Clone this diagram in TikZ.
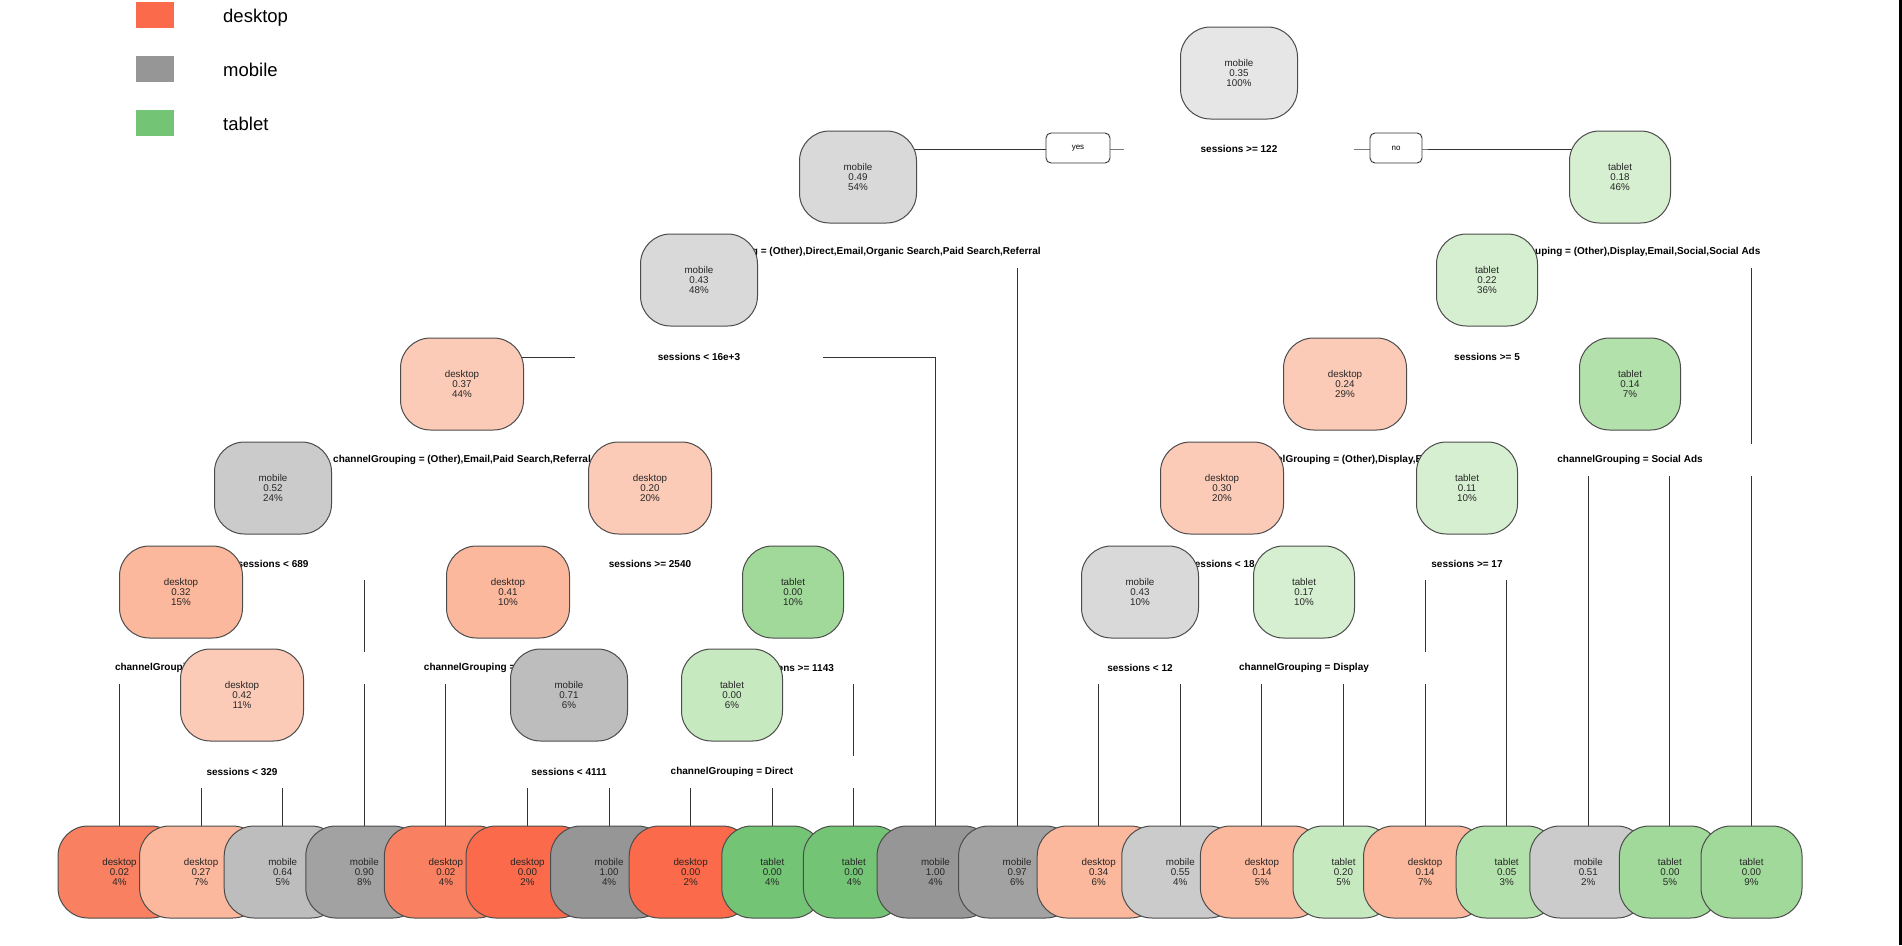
\documentclass[tikz,border=0pt]{standalone}
\usepackage{fontspec}
\setmainfont{Liberation Sans}
\usetikzlibrary{backgrounds}

\definecolor{dkA}{HTML}{FCCBB8}
\definecolor{dkB}{HTML}{FCB89D}
\definecolor{dkC}{HTML}{F98060}
\definecolor{dkD}{HTML}{FB6A4A}
\definecolor{mbA}{HTML}{E6E6E6}
\definecolor{mbB}{HTML}{D9D9D9}
\definecolor{mbC}{HTML}{CBCBCB}
\definecolor{mbD}{HTML}{BDBDBD}
\definecolor{mbE}{HTML}{A2A2A2}
\definecolor{mbF}{HTML}{969696}
\definecolor{tbA}{HTML}{D6EFD1}
\definecolor{tbB}{HTML}{C7E9C0}
\definecolor{tbC}{HTML}{B3E1AB}
\definecolor{tbD}{HTML}{A1D99B}
\definecolor{tbE}{HTML}{74C476}

\pgfdeclarelayer{masks}
\pgfsetlayers{background,masks,main}

\newcommand\nodefont{\fontsize{9.8}{10.4}\selectfont}
\newcommand\splitfont{\fontsize{10}{12}\selectfont\bfseries}
% label text, with a white box three times as wide under it
\newcommand\splitlabel[3]{%
  \node[split] (#1) at (#2) {\phantom{#3}#3\phantom{#3}};
  \begin{pgfonlayer}{masks}
    \fill[white] (#1.south west) rectangle (#1.north east);
  \end{pgfonlayer}}

\tikzset{
  treebox/.style={draw=black!70, line width=1pt, rounded corners=30pt,
    minimum height=92pt, inner sep=0pt, align=center, font=\nodefont, text=black!85},
  desktop/.style={treebox, minimum width=123pt},
  mobile/.style={treebox, minimum width=117pt},
  tablet/.style={treebox, minimum width=101pt},
  split/.style={font=\splitfont, minimum height=32pt, inner sep=0pt},
  yesno/.style={draw=black!80, fill=white, line width=0.9pt, rounded corners=5pt,
    minimum height=30pt, inner sep=0pt, font=\fontsize{8}{9}\selectfont},
  branch/.style={line width=1pt, black!80},
  legtext/.style={anchor=base west, inner sep=0pt, font=\fontsize{18.5}{20}\selectfont}
}

\begin{document}
\begin{tikzpicture}[x=1pt,y=-1pt]
\useasboundingbox (0,0) rectangle (1902,945);

% legend
\fill[dkD] (136,2) rectangle (174,28);
\fill[mbF] (136,56) rectangle (174,82);
\fill[tbE] (136,110) rectangle (174,136);
\node[legtext] (legdesk) at (223,22) {desktop};
\node[legtext] (legmob) at (223,76) {mobile};
\node[legtext] (legtab) at (223,130) {tablet};

% split labels
\splitlabel{s0}{1239,149}{sessions >= 122}
\splitlabel{s1}{858,252}{channelGrouping = (Other),Direct,Email,Organic Search,Paid Search,Referral}
\splitlabel{s2}{1620,252}{channelGrouping = (Other),Display,Email,Social,Social Ads}
\splitlabel{s3}{699,357}{sessions < 16e+3}
\splitlabel{s4}{1487,357}{sessions >= 5}
\splitlabel{s5}{462,460}{channelGrouping = (Other),Email,Paid Search,Referral}
\splitlabel{s6}{1345,460}{channelGrouping = (Other),Display,Email}
\splitlabel{s7}{1630,460}{channelGrouping = Social Ads}
\splitlabel{s8}{273,564}{sessions < 689}
\splitlabel{s9}{650,564}{sessions >= 2540}
\splitlabel{s10}{1222,564}{sessions < 18}
\splitlabel{s11}{1467,564}{sessions >= 17}
\splitlabel{s12}{181,668}{channelGrouping = Referral}
\splitlabel{s13}{508,668}{channelGrouping = Organic Search}
\splitlabel{s14}{793,668}{sessions >= 1143}
\splitlabel{s15}{1140,668}{sessions < 12}
\splitlabel{s16}{1304,668}{channelGrouping = Display}
\splitlabel{s17}{242,772}{sessions < 329}
\splitlabel{s18}{569,772}{sessions < 4111}
\splitlabel{s19}{732,772}{channelGrouping = Direct}

\node[yesno, minimum width=64pt] (yes) at (1078,148) {yes};
\node[yesno, minimum width=52pt] (no) at (1396,148) {no};

% inner nodes
\node[mobile, fill=mbA] (n0) at (1239,73) {mobile\\0.35\\100\%};
\node[mobile, fill=mbB] (n1) at (858,177) {mobile\\0.49\\54\%};
\node[tablet, fill=tbA] (n2) at (1620,177) {tablet\\0.18\\46\%};
\node[mobile, fill=mbB] (n3) at (699,280) {mobile\\0.43\\48\%};
\node[tablet, fill=tbA] (n4) at (1487,280) {tablet\\0.22\\36\%};
\node[desktop, fill=dkA] (n5) at (462,384) {desktop\\0.37\\44\%};
\node[desktop, fill=dkA] (n6) at (1345,384) {desktop\\0.24\\29\%};
\node[tablet, fill=tbC] (n7) at (1630,384) {tablet\\0.14\\7\%};
\node[mobile, fill=mbC] (n8) at (273,488) {mobile\\0.52\\24\%};
\node[desktop, fill=dkA] (n9) at (650,488) {desktop\\0.20\\20\%};
\node[desktop, fill=dkA] (n10) at (1222,488) {desktop\\0.30\\20\%};
\node[tablet, fill=tbA] (n11) at (1467,488) {tablet\\0.11\\10\%};
\node[desktop, fill=dkB] (n12) at (181,592) {desktop\\0.32\\15\%};
\node[desktop, fill=dkB] (n13) at (508,592) {desktop\\0.41\\10\%};
\node[tablet, fill=tbD] (n14) at (793,592) {tablet\\0.00\\10\%};
\node[mobile, fill=mbB] (n15) at (1140,592) {mobile\\0.43\\10\%};
\node[tablet, fill=tbA] (n16) at (1304,592) {tablet\\0.17\\10\%};
\node[desktop, fill=dkA] (n17) at (242,695) {desktop\\0.42\\11\%};
\node[mobile, fill=mbD] (n18) at (569,695) {mobile\\0.71\\6\%};
\node[tablet, fill=tbB] (n19) at (732,695) {tablet\\0.00\\6\%};

% leaves
\foreach \cls/\col/\p/\pc [count=\i from 0] in {desktop/dkC/0.02/4, desktop/dkB/0.27/7,
    mobile/mbD/0.64/5, mobile/mbE/0.90/8, desktop/dkC/0.02/4, desktop/dkD/0.00/2,
    mobile/mbF/1.00/4, desktop/dkD/0.00/2, tablet/tbE/0.00/4, tablet/tbE/0.00/4,
    mobile/mbF/1.00/4, mobile/mbE/0.97/6, desktop/dkB/0.34/6, mobile/mbC/0.55/4,
    desktop/dkB/0.14/5, tablet/tbB/0.20/5, desktop/dkB/0.14/7, tablet/tbC/0.05/3,
    mobile/mbC/0.51/2, tablet/tbD/0.00/5, tablet/tbD/0.00/9}
  \node[\cls, fill=\col] (l\i) at ({119.5+81.6*\i},872) {\cls\\\p\\\pc\%};

% branches
\begin{pgfonlayer}{background}
\foreach \s/\a/\b in {s0/n1/n2, s1/n3/l11, s2/n4/l20, s3/n5/l10, s4/n6/n7,
    s5/n8/n9, s6/n10/n11, s7/l18/l19, s8/n12/l3, s9/n13/n14, s10/n15/n16,
    s11/l16/l17, s12/l0/n17, s13/l4/n18, s14/n19/l9, s15/l12/l13,
    s16/l14/l15, s17/l1/l2, s18/l5/l6, s19/l7/l8}
  \draw[branch] (\a.center) |- (\s.center) -| (\b.center);
\end{pgfonlayer}

\fill[black] (1899,0) rectangle (1902,945);

\end{tikzpicture}
\end{document}
